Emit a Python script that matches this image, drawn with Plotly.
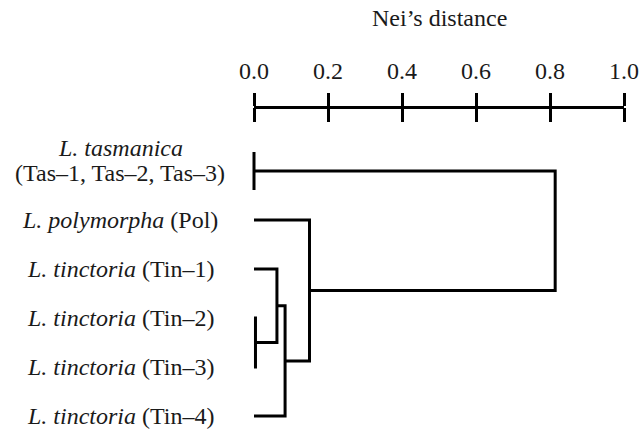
import plotly.graph_objects as go

# ---------------- data ----------------
leaf_labels = [
    "<i>L. tasmanica</i><br>(Tas–1, Tas–2, Tas–3)",
    "<i>L. polymorpha</i> (Pol)",
    "<i>L. tinctoria</i> (Tin–1)",
    "<i>L. tinctoria</i> (Tin–2)",
    "<i>L. tinctoria</i> (Tin–3)",
    "<i>L. tinctoria</i> (Tin–4)",
]
# agglomeration steps (scipy-like): new cluster ids start at len(leaf_labels)
merge_left = [3, 2, 7, 1, 0]
merge_right = [4, 6, 5, 8, 9]
merge_dist = [0.004, 0.062, 0.084, 0.150, 0.814]
collapsed_leaves = [0]          # Tas-1, Tas-2, Tas-3 identical (distance 0)
tick_values = [0.0, 0.2, 0.4, 0.6, 0.8, 1.0]
tick_labels = ["0.0", "0.2", "0.4", "0.6", "0.8", "1.0"]
axis_title = "Nei’s distance"

# ---------------- layout constants ----------------
W, H = 642, 430
PX0, PX1 = 254, 624            # pixel of distance 0 and 1
LEAF0_PX, LEAF_STEP = 171, 49   # pixel of first leaf, spacing
AXIS_PX = 107
TITLE_PX = 18
FONT = "Liberation Serif"
FS = 24
INK = "#1a1a1a"
LW = 3

scale = PX1 - PX0
x_range = [(200 - PX0) / scale, (640 - PX0) / scale]
y_range = [(H - LEAF0_PX) / LEAF_STEP, -LEAF0_PX / LEAF_STEP]

# ---------------- dendrogram geometry ----------------
n = len(leaf_labels)
node_x = {i: 0.0 for i in range(n)}
node_y = {i: float(i) for i in range(n)}
xs, ys = [], []
for k, (a, b, d) in enumerate(zip(merge_left, merge_right, merge_dist)):
    xs += [node_x[a], d, d, node_x[b], None]
    ys += [node_y[a], node_y[a], node_y[b], node_y[b], None]
    node_x[n + k] = d
    node_y[n + k] = (node_y[a] + node_y[b]) / 2

half_bar = 19 / LEAF_STEP
for i in collapsed_leaves:
    xs += [0.0, 0.0, None]
    ys += [i - half_bar, i + half_bar, None]

fig = go.Figure()
fig.add_trace(go.Scatter(x=xs, y=ys, mode="lines",
                         line=dict(color="black", width=LW),
                         hoverinfo="skip", showlegend=False,
                         xaxis="x", yaxis="y"))
# invisible helpers so the scale-bar axes get drawn
for ax in ["x2", "x3"]:
    fig.add_trace(go.Scatter(x=[tick_values[0], tick_values[-1]], y=[0, 0],
                             mode="markers", marker=dict(opacity=0),
                             hoverinfo="skip", showlegend=False,
                             xaxis=ax, yaxis="y"))

# leaf labels
for i, lab in enumerate(leaf_labels):
    lines = lab.split("<br>")
    shifts = [23, -2] if len(lines) == 2 else [0]
    for line, s in zip(lines, shifts):
        fig.add_annotation(x=120 / W, xref="paper", y=i, yref="y",
                           text=line, showarrow=False, xanchor="center",
                           yanchor="middle", yshift=s,
                           font=dict(family=FONT, size=FS, color=INK))

# scale-bar title
fig.add_annotation(x=0.5, xref="x2 domain", y=1 - TITLE_PX / H, yref="paper",
                   text=axis_title, showarrow=False, xanchor="center",
                   yanchor="middle",
                   font=dict(family=FONT, size=FS, color=INK))

pos = 1 - AXIS_PX / H
fig.update_layout(
    width=W, height=H,
    margin=dict(l=0, r=0, t=0, b=0, pad=0),
    paper_bgcolor="white", plot_bgcolor="rgba(0,0,0,0)",
    showlegend=False,
    font=dict(family=FONT, size=FS, color=INK),
    xaxis=dict(domain=[200 / W, 640 / W], range=x_range, visible=False),
    yaxis=dict(domain=[0, 1], range=y_range, visible=False),
    xaxis2=dict(domain=[PX0 / W, PX1 / W], range=[0, 1], anchor="free",
                position=pos, side="top", showline=True, linewidth=LW,
                linecolor="black", ticks="outside", ticklen=13, tickwidth=LW,
                tickcolor="black", tickvals=tick_values, ticktext=tick_labels,
                ticklabelstandoff=4,
                tickfont=dict(family=FONT, size=FS, color=INK),
                showgrid=False, zeroline=False, automargin=False),
    xaxis3=dict(domain=[PX0 / W, PX1 / W], range=[0, 1], anchor="free",
                position=pos, side="bottom", showline=False,
                ticks="outside", ticklen=14, tickwidth=LW, tickcolor="black",
                tickvals=tick_values, showticklabels=False,
                showgrid=False, zeroline=False, automargin=False),
)

fig.write_html("out.html", config={"displayModeBar": False},
               post_script="document.body.style.margin='0px';")
